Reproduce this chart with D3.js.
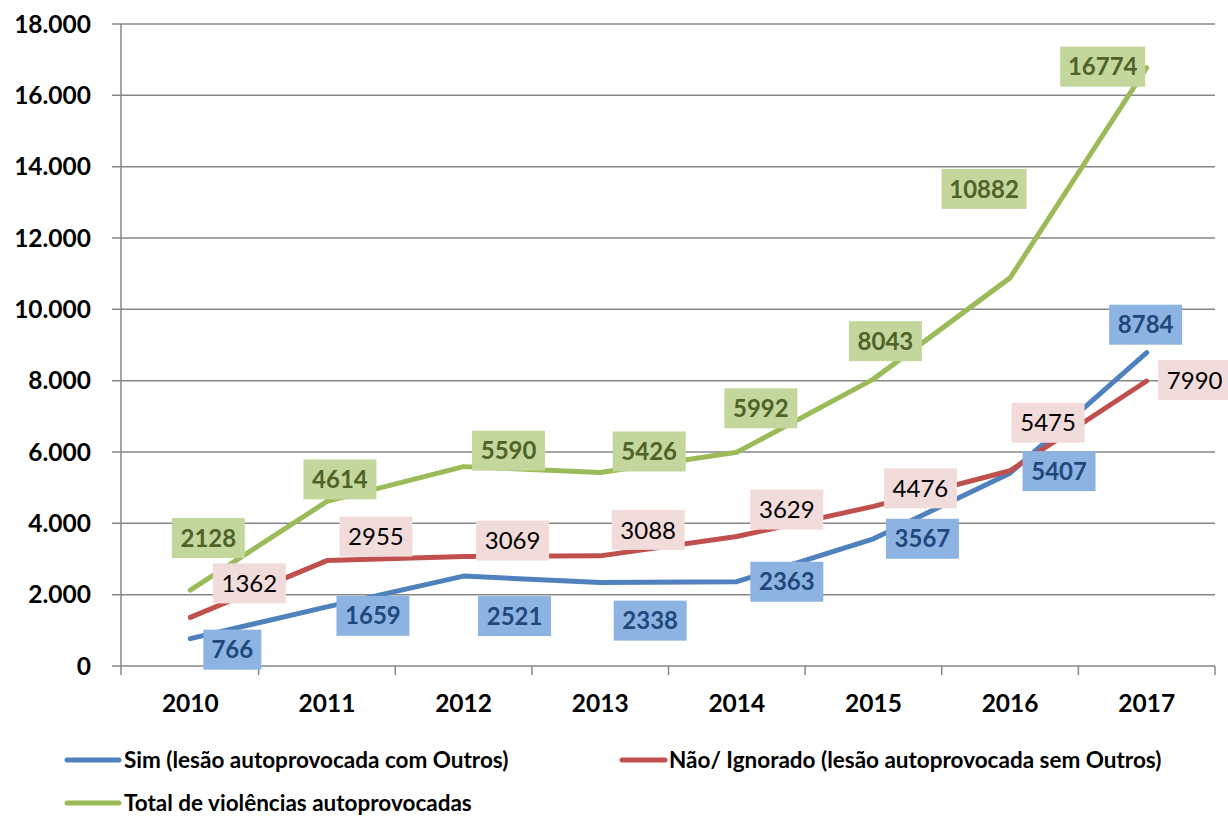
<!DOCTYPE html>
<html><head><meta charset="utf-8">
<script src="https://cdn.jsdelivr.net/npm/d3@7"></script>
<style>body{margin:0;background:#fff}svg{display:block;font-family:Lato,"Open Sans",sans-serif}</style>
</head><body><svg id="c" width="1228" height="816"></svg>
<script>
const years = ["2010","2011","2012","2013","2014","2015","2016","2017"];
const sim = [766,1659,2521,2338,2363,3567,5407,8784];
const nao = [1362,2955,3069,3088,3629,4476,5475,7990];
const total = [2128,4614,5590,5426,5992,8043,10882,16774];
const yTicks = [0,2000,4000,6000,8000,10000,12000,14000,16000,18000];
const seriesNames = ["Sim (lesão autoprovocada com Outros)","Não/ Ignorado (lesão autoprovocada sem Outros)","Total de violências autoprovocadas"];

// label offsets (pixels) relative to data point — styling only
const offSim = [[42,11],[46,9],[51,40],[50,38],[50,0],[49,0],[49,-2],[-1,-28]];
const offNao = [[59,-34],[49,-24],[49,-16],[48,-26],[50,-27],[47,-18],[38,-48],[48,-1]];
const offTot = [[18,-52],[13,-22],[45,-16],[49,-21],[24,-44],[12,-38],[-26,-89],[-44,-1]];

const svg = d3.select("#c");
const x = d3.scaleBand().domain(years).range([122,1215]);
const y = d3.scaleLinear().domain([0,18000]).range([666,24]);
const cx = d => x(d)+x.bandwidth()/2;
const grid="#878787";

svg.append("g").selectAll("line").data(yTicks).join("line")
 .attr("x1",112).attr("x2",1215).attr("y1",d=>y(d)).attr("y2",d=>y(d))
 .attr("stroke",grid).attr("stroke-width",1.5);
svg.append("line").attr("x1",121).attr("x2",121).attr("y1",y(18000)).attr("y2",675).attr("stroke",grid).attr("stroke-width",1.5);
const bounds = years.map(d=>x(d)).concat([x.range()[1]]);
svg.append("g").selectAll("line").data(bounds.slice(1)).join("line")
 .attr("x1",d=>d).attr("x2",d=>d).attr("y1",666).attr("y2",675).attr("stroke",grid).attr("stroke-width",1.5);
svg.append("g").selectAll("text").data(yTicks).join("text")
 .attr("x",91).attr("y",d=>y(d)).attr("dy","0.36em").attr("text-anchor","end")
 .attr("font-size",24.5).attr("font-weight","bold").text(d=>d3.format(",")(d).replace(/,/g,"."));
svg.append("g").selectAll("text").data(years).join("text")
 .attr("x",d=>cx(d)).attr("y",703).attr("dy","0.36em").attr("text-anchor","middle")
 .attr("font-size",24.5).attr("font-weight","bold").text(d=>d);

const series = [
 {vals:sim, color:"#4F81BD", box:"#8DB3E2", txt:"#1F497D", bold:true, off:offSim},
 {vals:nao, color:"#C0504D", box:"#F2DCDB", txt:"#000", bold:false, off:offNao},
 {vals:total, color:"#9BBB59", box:"#C3D69B", txt:"#4F6228", bold:true, off:offTot}
];
const line = d3.line().x((d,i)=>cx(years[i])).y(d=>y(d)).curve(d3.curveLinear);
series.forEach(s=>{
 svg.append("path").attr("d",line(s.vals)).attr("fill","none").attr("stroke",s.color)
  .attr("stroke-width",5).attr("stroke-linecap","round").attr("stroke-linejoin","round");
});
series.forEach(s=>{
 const g = svg.append("g");
 s.vals.forEach((v,i)=>{
  const px = cx(years[i])+s.off[i][0], py = y(v)+s.off[i][1];
  const str = String(v);
  const w = str.length===3?58:(str.length===4?73:85);
  g.append("rect").attr("x",px-w/2).attr("y",py-20).attr("width",w).attr("height",40).attr("fill",s.box);
  g.append("text").attr("x",px).attr("y",py).attr("dy","0.36em").attr("text-anchor","middle")
   .attr("font-size",24).attr("font-weight",s.bold?"bold":"normal").attr("fill",s.txt).text(str);
 });
});
const leg = [
 {x1:67,x2:119,y:760,tx:124,c:"#4F81BD",t:seriesNames[0]},
 {x1:622,x2:665,y:760,tx:669,c:"#C0504D",t:seriesNames[1]},
 {x1:67,x2:119,y:803,tx:124,c:"#9BBB59",t:seriesNames[2]}
];
leg.forEach(l=>{
 svg.append("line").attr("x1",l.x1).attr("x2",l.x2).attr("y1",l.y).attr("y2",l.y).attr("stroke",l.c).attr("stroke-width",5).attr("stroke-linecap","round");
 svg.append("text").attr("x",l.tx).attr("y",l.y).attr("dy","0.36em").attr("font-size",22.5).attr("font-weight","bold").text(l.t);
});
</script></body></html>
